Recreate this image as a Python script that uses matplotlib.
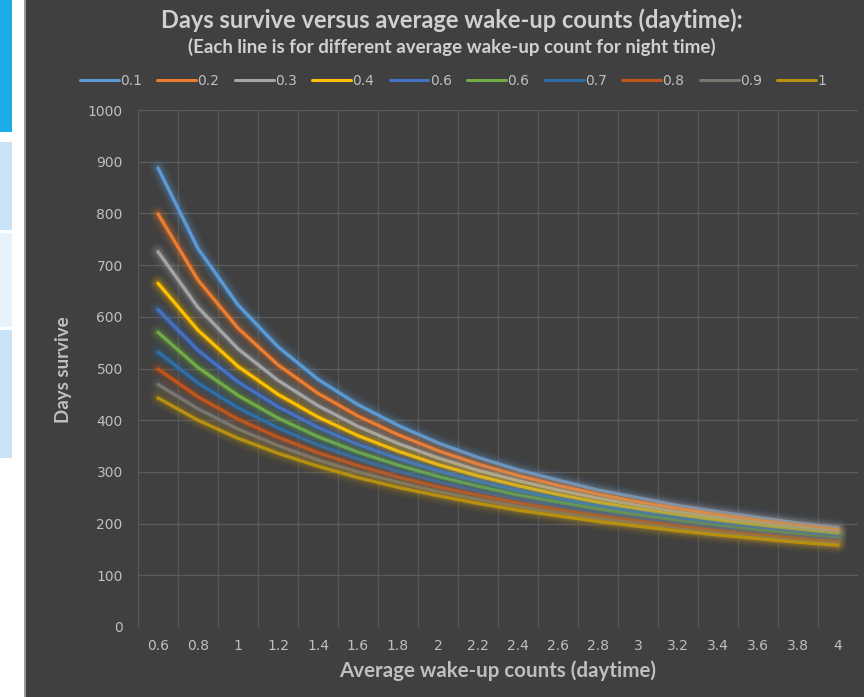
import matplotlib
matplotlib.use("Agg")
import matplotlib.pyplot as plt
from matplotlib.patches import Rectangle
import numpy as np

# x categories: average wake-up counts during the day
tick_labels = ["0.6", "0.8", "1", "1.2", "1.4", "1.6", "1.8", "2", "2.2",
               "2.4", "2.6", "2.8", "3", "3.2", "3.4", "3.6", "3.8", "4"]

# one line per night-time wake-up count (legend text as shown in the chart)
series_names = ["0.1", "0.2", "0.3", "0.4", "0.6", "0.6", "0.7", "0.8", "0.9", "1"]

days_01 = [888, 732, 623, 542, 479, 430, 390, 356, 328, 304, 284, 265, 250, 235, 223, 212, 201, 192]
days_02 = [799, 671, 578, 507, 452, 408, 372, 341, 315, 293, 274, 257, 242, 229, 217, 206, 196, 188]
days_03 = [726, 618, 538, 477, 428, 388, 355, 327, 303, 283, 265, 249, 235, 222, 211, 201, 192, 183]
days_04 = [665, 574, 504, 450, 406, 370, 340, 314, 292, 273, 256, 241, 228, 216, 206, 196, 187, 179]
days_05 = [614, 535, 474, 426, 386, 353, 326, 302, 282, 264, 248, 234, 222, 211, 200, 191, 183, 175]
days_06 = [570, 502, 448, 404, 368, 338, 313, 291, 272, 255, 241, 228, 216, 205, 195, 187, 179, 171]
days_07 = [532, 472, 424, 385, 352, 325, 301, 281, 263, 247, 234, 221, 210, 200, 191, 182, 175, 168]
days_08 = [499, 445, 402, 367, 337, 312, 290, 271, 255, 240, 227, 215, 205, 195, 186, 178, 171, 164]
days_09 = [469, 422, 383, 351, 323, 300, 280, 262, 247, 233, 221, 210, 200, 190, 182, 174, 167, 161]
days_10 = [443, 400, 365, 336, 311, 289, 270, 254, 239, 226, 215, 204, 195, 186, 178, 171, 164, 158]

all_series = [days_01, days_02, days_03, days_04, days_05,
              days_06, days_07, days_08, days_09, days_10]
colors = ["#5B9BD5", "#ED7D31", "#A5A5A5", "#FFC000", "#4472C4",
          "#70AD47", "#2F6FA8", "#C0561C", "#7A7670", "#B89010"]

bg = "#404040"
text_col = "#bfbfbf"
W, H = 864, 697

fig = plt.figure(figsize=(W / 100, H / 100), dpi=100, facecolor=bg)

# left strip of the screenshot (white page with blue boxes)
fig.patches.append(Rectangle((0, 0), 24 / W, 1, transform=fig.transFigure,
                             facecolor="white", edgecolor="none", zorder=0))
fig.patches.append(Rectangle((24 / W, 0), 2 / W, 1, transform=fig.transFigure,
                             facecolor="#9a9a9a", edgecolor="none", zorder=0))
boxes = [(0, 132, "#1AABE8"), (142, 230, "#C9E2F6"),
         (233, 327, "#E6F2FC"), (330, 458, "#C9E2F6")]
for top, bot, col in boxes:
    fig.patches.append(Rectangle((0, 1 - bot / H), 12 / W, (bot - top) / H,
                                 transform=fig.transFigure, facecolor=col,
                                 edgecolor="none", zorder=1))

ax = fig.add_axes([138 / W, 70 / H, 720 / W, 517 / H])
ax.set_facecolor(bg)

lines = []
for i, (vals, col) in enumerate(zip(all_series, colors)):
    z = 3 + i
    # soft glow under each line
    for lw, a in [(13, 0.05), (10, 0.08), (7, 0.12), (4.5, 0.18)]:
        ax.plot(tick_labels, vals, color=col, lw=lw, alpha=a,
                solid_capstyle="round", solid_joinstyle="round", zorder=z)
    ln, = ax.plot(tick_labels, vals, color=col, lw=2.3,
                  solid_capstyle="round", solid_joinstyle="round", zorder=z)
    lines.append(ln)

ax.set_xlim(-0.5, len(tick_labels) - 0.5)
ax.set_ylim(0, 1000)
ax.set_yticks(range(0, 1001, 100))
ax.set_xticks(np.arange(-0.5, len(tick_labels), 1), minor=True)

ax.grid(axis="y", which="major", color="#5c5c5c", lw=0.9)
ax.grid(axis="x", which="minor", color="#575757", lw=0.9)
ax.yaxis.get_gridlines()[0].set_visible(False)
for s in ax.spines.values():
    s.set_visible(False)

ax.tick_params(axis="both", which="both", length=0, colors=text_col)
ax.tick_params(axis="x", pad=9)
ax.tick_params(axis="y", pad=11)
for lab in ax.get_xticklabels() + ax.get_yticklabels():
    lab.set_fontfamily("DejaVu Sans")
    lab.set_fontsize(10)
    lab.set_color(text_col)

fig.text(452 / W, 1 - 20 / H,
         "Days survive versus average wake-up counts (daytime):",
         ha="center", va="center", color="#d0d0d0", fontsize=17,
         fontweight="bold", family="Lato")
fig.text(452 / W, 1 - 47 / H,
         "(Each line is for different average wake-up count for night time)",
         ha="center", va="center", color="#d0d0d0", fontsize=13.5,
         fontweight="bold", family="Lato")
fig.text(498 / W, 1 - 671 / H, "Average wake-up counts (daytime)",
         ha="center", va="center", color=text_col, fontsize=14.8,
         fontweight="bold", family="Lato")
fig.text(63 / W, 1 - 370 / H, "Days survive", rotation=90,
         ha="center", va="center", color=text_col, fontsize=13.5,
         fontweight="bold", family="Lato")

leg = fig.legend(lines, series_names, ncol=10, loc="center",
                 bbox_to_anchor=(453 / W, 1 - 81 / H), frameon=False,
                 handlelength=2.8, handletextpad=0.1, columnspacing=1.1,
                 prop={"family": "DejaVu Sans", "size": 10})
for t in leg.get_texts():
    t.set_color(text_col)
for h in leg.legend_handles:
    h.set_linewidth(2.2)

fig.savefig("out.png", dpi=100, facecolor=bg)
